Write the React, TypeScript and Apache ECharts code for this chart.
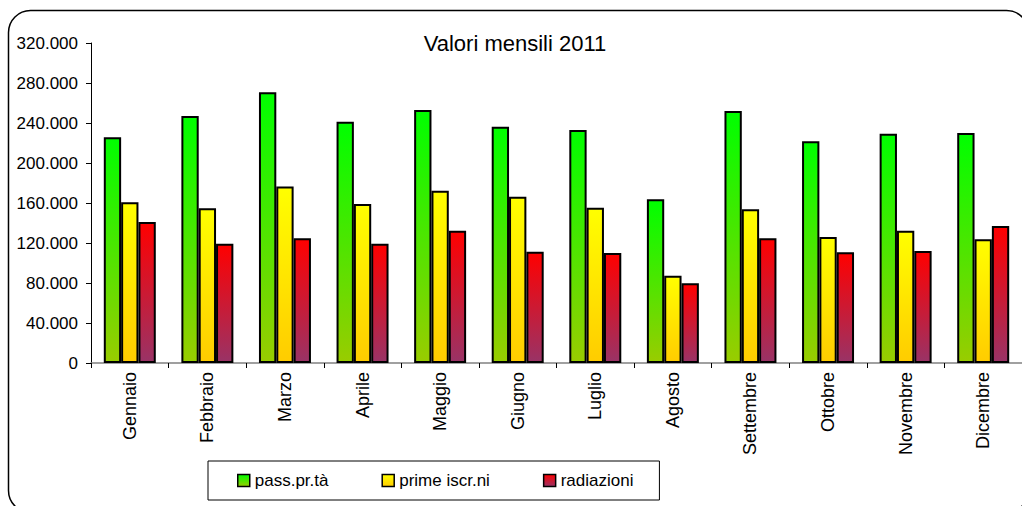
import React, { useEffect, useRef } from "react";
import * as echarts from "echarts";

const months = ["Gennaio", "Febbraio", "Marzo", "Aprile", "Maggio", "Giugno", "Luglio", "Agosto", "Settembre", "Ottobre", "Novembre", "Dicembre"];
const seriesNames = ["pass.pr.tà", "prime iscr.ni", "radiazioni"];
const passPrTa = [225700, 247000, 270700, 241300, 253000, 236300, 233000, 163700, 252000, 221700, 229300, 230000];
const primeIscrNi = [160700, 154700, 176500, 159000, 172300, 166300, 155300, 87300, 153700, 126000, 132300, 123700];
const radiazioni = [141000, 119300, 124700, 119300, 132300, 111300, 110000, 79700, 124700, 110700, 112000, 137000];
const yMin = 0;
const yMax = 320000;
const yStep = 40000;
const titleText = "Valori mensili 2011";

const FONT = "'Liberation Sans', Arial, sans-serif";

function fmt(v: number): string {
  return String(Math.round(v)).replace(/\B(?=(\d{3})+(?!\d))/g, ".");
}

function grad(top: string, bottom: string) {
  return new echarts.graphic.LinearGradient(0, 0, 0, 1, [
    { offset: 0, color: top },
    { offset: 1, color: bottom },
  ]);
}

export default function App() {
  const ref = useRef<HTMLDivElement>(null);
  useEffect(() => {
    if (!ref.current) return;
    const chart = echarts.init(ref.current, undefined, { renderer: "svg" });
    const colors = [grad("#00ff00", "#99cc00"), grad("#ffff00", "#ffcc00"), grad("#ff0000", "#993366")];
    const datas = [passPrTa, primeIscrNi, radiazioni];
    chart.setOption({
      animation: false,
      backgroundColor: "#ffffff",
      textStyle: { fontFamily: FONT },
      graphic: [
        {
          type: "rect",
          shape: { x: 8.5, y: 10.5, width: 1020, height: 502, r: 22 },
          style: { fill: "none", stroke: "#000", lineWidth: 1.5 },
          silent: true,
          z: -10,
        },
        {
          type: "text",
          x: 515,
          y: 43,
          style: {
            text: titleText,
            fill: "#000",
            font: `22px ${FONT}`,
            textAlign: "center",
            textVerticalAlign: "middle",
          },
        },
      ],
      legend: {
        data: seriesNames,
        orient: "horizontal",
        left: 208,
        top: 461,
        padding: [11, 26, 11, 29],
        borderColor: "#000",
        borderWidth: 1,
        itemGap: 53,
        itemWidth: 12,
        itemHeight: 12,
        icon: "rect",
        itemStyle: { borderColor: "#000", borderWidth: 1.5 },
        textStyle: { fontSize: 17, color: "#000", fontFamily: FONT },
      },
      grid: { left: 91, top: 43, width: 938, height: 320, containLabel: false },
      xAxis: {
        type: "category",
        data: months,
        axisLine: { lineStyle: { color: "#808080", width: 1.5 } },
        axisTick: { show: true, length: 5, lineStyle: { color: "#000" } },
        axisLabel: { rotate: 90, fontSize: 18, color: "#000", margin: 9, fontFamily: FONT },
      },
      yAxis: {
        type: "value",
        min: yMin,
        max: yMax,
        interval: yStep,
        axisLine: { show: true, lineStyle: { color: "#000", width: 1 } },
        axisTick: { show: true, length: 5, lineStyle: { color: "#000" } },
        splitLine: { show: false },
        axisLabel: { fontSize: 17, color: "#000", margin: 13, fontFamily: FONT, formatter: (v: number) => fmt(v) },
      },
      series: seriesNames.map((name, i) => ({
        name,
        type: "bar",
        data: datas[i],
        barGap: "0%",
        barCategoryGap: "33%",
        itemStyle: { color: colors[i], borderColor: "#000", borderWidth: 2 },
      })),
    });
    return () => chart.dispose();
  }, []);
  return (
    <div
      ref={ref}
      style={{ position: "fixed", left: 0, top: 0, width: 1022, height: 506, background: "#fff" }}
    />
  );
}
